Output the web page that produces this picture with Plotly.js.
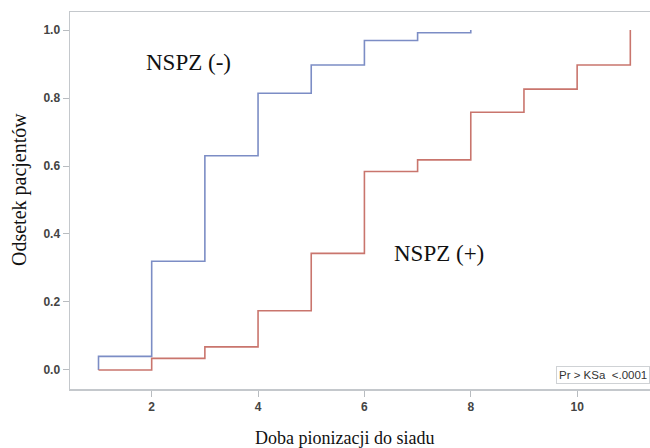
<!DOCTYPE html>
<html>
<head>
<meta charset="utf-8">
<script src="https://cdn.plot.ly/plotly-3.0.1.min.js"></script>
<style>html,body{margin:0;padding:0;background:#fff;}#chart{width:650px;height:448px;}</style>
</head>
<body>
<div id="chart"></div>
<script>
const negDays = [1, 1, 2, 3, 4, 5, 6, 7, 8];
const negCum  = [0, 0.04, 0.32, 0.63, 0.814, 0.897, 0.969, 0.992, 1.0];
const posDays = [1, 2, 3, 4, 5, 6, 7, 8, 9, 10, 11];
const posCum  = [0, 0.034, 0.068, 0.174, 0.343, 0.584, 0.618, 0.758, 0.826, 0.897, 1.0];
const xTicks = [2, 4, 6, 8, 10];
const yTicks = [0, 0.2, 0.4, 0.6, 0.8, 1.0];
const yTickText = ['0.0', '0.2', '0.4', '0.6', '0.8', '1.0'];
const negLabel = 'NSPZ (-)';
const posLabel = 'NSPZ (+)';
const xTitle = 'Doba pionizacji do siadu';
const yTitle = 'Odsetek pacjentów';
const statText = 'Pr &gt; KSa&nbsp;&nbsp;&lt;.0001';

const traces = [
  {x: negDays, y: negCum, type: 'scatter', mode: 'lines', line: {shape: 'hv', color: '#7c8dc5', width: 1.6}, hoverinfo: 'skip'},
  {x: posDays, y: posCum, type: 'scatter', mode: 'lines', line: {shape: 'hv', color: '#c9756d', width: 1.6}, hoverinfo: 'skip'}
];

const sans = "'Liberation Sans', Arial, sans-serif";
const serif = "'Liberation Serif', 'Times New Roman', serif";
const tickFont = {family: sans, size: 12, color: '#444', weight: 'bold'};

const layout = {
  width: 650, height: 448,
  margin: {l: 70, r: 0, t: 12, b: 59},
  paper_bgcolor: '#fff', plot_bgcolor: '#fff',
  showlegend: false,
  xaxis: {
    range: [0.464, 11.37], tickvals: xTicks, ticks: 'outside', ticklen: 6, tickcolor: '#b8bcc0',
    showline: true, linecolor: '#c4c8cc', linewidth: 1.5, mirror: true,
    showgrid: false, zeroline: false, tickfont: tickFont
  },
  yaxis: {
    range: [-0.056, 1.053], tickvals: yTicks, ticktext: yTickText, ticks: 'outside', ticklen: 6, tickcolor: '#b8bcc0',
    showline: true, linecolor: '#c4c8cc', linewidth: 1.5,
    showgrid: false, zeroline: false, tickfont: tickFont
  },
  annotations: [
    {text: negLabel, xref: 'x', yref: 'y', x: 2.69, y: 0.903, showarrow: false,
     font: {family: serif, size: 23, color: '#111'}},
    {text: posLabel, xref: 'x', yref: 'y', x: 7.41, y: 0.344, showarrow: false,
     font: {family: serif, size: 23, color: '#111'}},
    {text: xTitle, xref: 'paper', yref: 'paper', x: (344.5 - 70) / 580, y: (389 - 438) / 377,
     xanchor: 'center', yanchor: 'middle', showarrow: false,
     font: {family: serif, size: 18, color: '#111'}},
    {text: yTitle, xref: 'paper', yref: 'paper', x: (19 - 70) / 580, y: (389 - 190) / 377,
     xanchor: 'center', yanchor: 'middle', textangle: -90, showarrow: false,
     font: {family: serif, size: 20, color: '#111'}},
    {text: statText, xref: 'paper', yref: 'paper', x: 1, y: (389 - 375) / 377,
     xanchor: 'right', yanchor: 'middle', showarrow: false,
     bordercolor: '#cfd2d5', borderwidth: 1, borderpad: 2, bgcolor: '#fff',
     font: {family: sans, size: 11.5, color: '#333'}}
  ]
};

Plotly.newPlot('chart', traces, layout, {displayModeBar: false, staticPlot: true});
</script>
</body>
</html>
